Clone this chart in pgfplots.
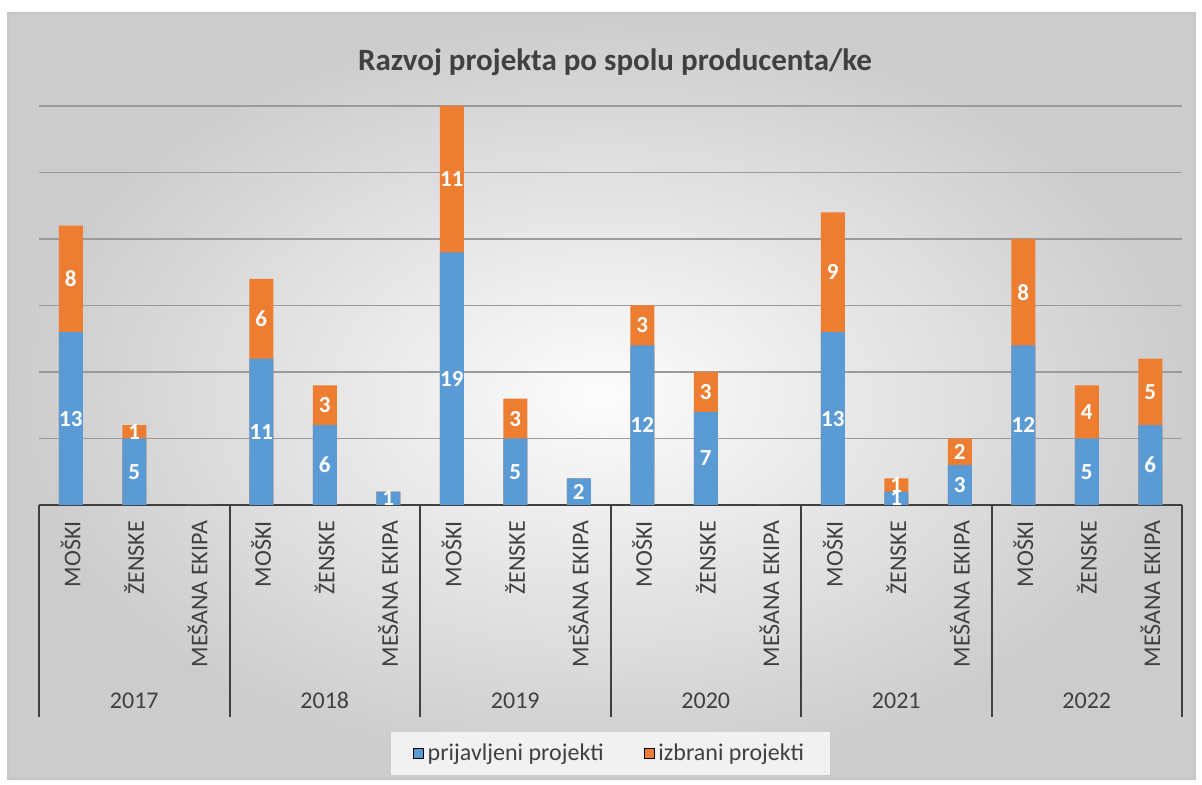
\documentclass[border=0pt]{standalone}
\usepackage{pgfplots}
\pgfplotsset{compat=1.18}
\usepackage{pgfplotstable}
\usepackage{fontspec}
\setmainfont{Carlito}
\definecolor{cblue}{HTML}{5B9BD5}
\definecolor{corange}{HTML}{ED7D31}
\definecolor{tgray}{HTML}{404040}
\definecolor{ggray}{HTML}{9A9A9A}

\pgfplotstableread{
x a b
0 13 8
1 5 1
2 0 0
3 11 6
4 6 3
5 1 0
6 19 11
7 5 3
8 2 0
9 12 3
10 7 3
11 0 0
12 13 9
13 1 1
14 3 2
15 12 8
16 5 4
17 6 5
}\data

\begin{document}
\begin{tikzpicture}
\fill[white] (0,0) rectangle (601pt,392.5pt);
\shade[inner color=gray!2, outer color=gray!40] (4pt,3pt) rectangle (597.5pt,386pt);
\draw[gray!45, line width=0.6pt] (4pt,3pt) rectangle (597.5pt,386pt);
\node[font=\bfseries\fontsize{15.5}{18}\selectfont, text=tgray] at (307.5pt,361.5pt) {Razvoj projekta po spolu producenta/ke};
\begin{axis}[
  at={(19.5pt,140pt)}, anchor=south west,
  scale only axis, width=571.5pt, height=199.5pt,
  xmin=-0.5, xmax=17.5, ymin=0, ymax=30,
  clip=false,
  /pgf/number format/assume math mode=true,
  axis x line*=bottom, axis y line*=left,
  x axis line style={draw=tgray, line width=1.2pt},
  y axis line style={draw=none},
  ytick={5,10,...,30}, yticklabels={},
  ymajorgrids, grid style={draw=ggray, line width=0.75pt},
  major tick length=0pt,
  xtick={0,...,17},
  xticklabels={MOŠKI,ŽENSKE,MEŠANA EKIPA,MOŠKI,ŽENSKE,MEŠANA EKIPA,MOŠKI,ŽENSKE,MEŠANA EKIPA,MOŠKI,ŽENSKE,MEŠANA EKIPA,MOŠKI,ŽENSKE,MEŠANA EKIPA,MOŠKI,ŽENSKE,MEŠANA EKIPA},
  xticklabel style={yshift=-4.5pt, rotate=90, anchor=east, font=\fontsize{12}{14}\selectfont, text=tgray},
  legend style={at={(axis description cs:0.5,-0.6228)}, anchor=center, legend columns=2,
    fill=gray!11, draw=none, font=\fontsize{12}{14}\selectfont, text=tgray,
    inner xsep=11pt, inner ysep=4pt,
    /tikz/every even column/.append style={column sep=18pt}},
  legend image code/.code={\fill[#1] (0pt,-2.5pt) rectangle (5pt,2.5pt);},
  every node near coord/.append style={anchor=center, text=white, font=\bfseries\fontsize{11.5}{12}\selectfont},
]
\addlegendimage{fill=cblue}
\addlegendentry{prijavljeni projekti}
\addlegendimage{fill=corange}
\addlegendentry{izbrani projekti}
\addplot[forget plot, ybar, bar width=12pt, bar shift=0pt, fill=corange, draw=none] table[x=x, y expr=\thisrow{a}+\thisrow{b}] {\data};
\addplot[forget plot, ybar, bar width=12pt, bar shift=0pt, fill=cblue, draw=none] table[x=x, y=a] {\data};
\addplot[forget plot, draw=none, no markers, nodes near coords, point meta=explicit] table[x=x, y expr={\thisrow{a}==0 ? nan : \thisrow{a}/2}, meta=a] {\data};
\addplot[forget plot, draw=none, no markers, nodes near coords, point meta=explicit] table[x=x, y expr={\thisrow{b}==0 ? nan : \thisrow{a}+\thisrow{b}/2}, meta=b] {\data};
\draw[tgray, line width=1pt] (axis cs:-0.5,0) -- ++(0pt,-106pt);
\draw[tgray, line width=1pt] (axis cs:2.5,0) -- ++(0pt,-106pt);
\draw[tgray, line width=1pt] (axis cs:5.5,0) -- ++(0pt,-106pt);
\draw[tgray, line width=1pt] (axis cs:8.5,0) -- ++(0pt,-106pt);
\draw[tgray, line width=1pt] (axis cs:11.5,0) -- ++(0pt,-106pt);
\draw[tgray, line width=1pt] (axis cs:14.5,0) -- ++(0pt,-106pt);
\draw[tgray, line width=1pt] (axis cs:17.5,0) -- ++(0pt,-106pt);
\node[font=\fontsize{12}{14}\selectfont, text=tgray, anchor=base, yshift=-101.5pt] at (axis cs:1,0) {2017};
\node[font=\fontsize{12}{14}\selectfont, text=tgray, anchor=base, yshift=-101.5pt] at (axis cs:4,0) {2018};
\node[font=\fontsize{12}{14}\selectfont, text=tgray, anchor=base, yshift=-101.5pt] at (axis cs:7,0) {2019};
\node[font=\fontsize{12}{14}\selectfont, text=tgray, anchor=base, yshift=-101.5pt] at (axis cs:10,0) {2020};
\node[font=\fontsize{12}{14}\selectfont, text=tgray, anchor=base, yshift=-101.5pt] at (axis cs:13,0) {2021};
\node[font=\fontsize{12}{14}\selectfont, text=tgray, anchor=base, yshift=-101.5pt] at (axis cs:16,0) {2022};
\end{axis}
\end{tikzpicture}
\end{document}
